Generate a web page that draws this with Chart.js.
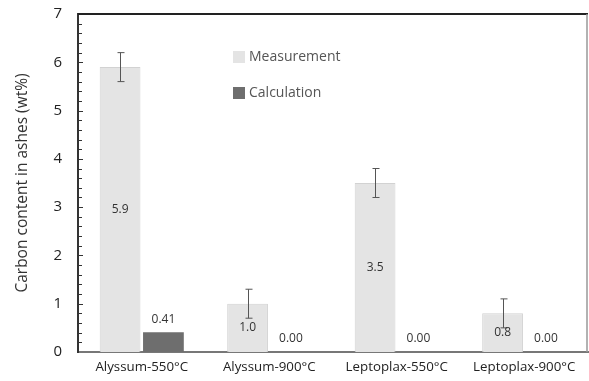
<!DOCTYPE html>
<html>
<head>
<meta charset="utf-8">
<script src="https://cdn.jsdelivr.net/npm/chart.js@4"></script>
<style>
  html, body { margin: 0; padding: 0; background: #fff; }
  #wrap { width: 589px; height: 381px; }
</style>
</head>
<body>
<div id="wrap"><canvas id="carbon-chart" width="589" height="381"></canvas></div>
<script>
const categories = ['Alyssum-550°C', 'Alyssum-900°C', 'Leptoplax-550°C', 'Leptoplax-900°C'];
const measurement = [5.9, 1.0, 3.5, 0.8];
const measurementErr = [0.3, 0.3, 0.3, 0.3];
const calculation = [0.41, 0, 0, 0];
const measurementLabels = ['5.9', '1.0', '3.5', '0.8'];
const calculationLabels = ['0.41', '0.00', '0.00', '0.00'];
const yTicks = [0, 1, 2, 3, 4, 5, 6, 7];

const FONT = "'Open Sans', 'DejaVu Sans', sans-serif";

// error bars, value labels, minor ticks, frame and legend
const extras = {
  id: 'extras',
  afterDraw(chart) {
    const ctx = chart.ctx;
    const x = chart.scales.x;
    const y = chart.scales.y;
    const L = x.left, R = x.right, T = y.top, B = y.bottom;
    const m0 = chart.getDatasetMeta(0);
    const m1 = chart.getDatasetMeta(1);
    ctx.save();

    // frame: top and right lines
    ctx.strokeStyle = '#222';
    ctx.lineWidth = 2;
    ctx.beginPath();
    ctx.moveTo(L, T);
    ctx.lineTo(R, T);
    ctx.stroke();
    ctx.strokeStyle = '#999';
    ctx.lineWidth = 1.5;
    ctx.beginPath();
    ctx.moveTo(R - 1, T);
    ctx.lineTo(R - 1, B);
    ctx.stroke();

    // minor/major ticks inside the left axis
    ctx.strokeStyle = '#333';
    ctx.lineWidth = 1;
    ctx.beginPath();
    for (let k = 1; k < 35; k++) {
      const py = Math.round(y.getPixelForValue(k * 0.2)) + 0.5;
      ctx.moveTo(L, py);
      ctx.lineTo(L + (k % 5 === 0 ? 5 : 4), py);
    }
    ctx.stroke();

    // error bars
    ctx.strokeStyle = '#555';
    m0.data.forEach((bar, i) => {
      const top = y.getPixelForValue(measurement[i] + measurementErr[i]);
      const bot = y.getPixelForValue(measurement[i] - measurementErr[i]);
      const bx = Math.round(bar.x) + 0.5;
      ctx.beginPath();
      ctx.moveTo(bx, top); ctx.lineTo(bx, bot);
      ctx.moveTo(bx - 3, top); ctx.lineTo(bx + 4, top);
      ctx.moveTo(bx - 3, bot); ctx.lineTo(bx + 4, bot);
      ctx.stroke();
    });

    // value labels
    ctx.font = '12px ' + FONT;
    ctx.fillStyle = '#333';
    ctx.textAlign = 'center';
    ctx.textBaseline = 'middle';
    m0.data.forEach((bar, i) => {
      ctx.fillText(measurementLabels[i], bar.x, (bar.y + bar.base) / 2);
    });
    m1.data.forEach((bar, i) => {
      ctx.fillText(calculationLabels[i], bar.x, bar.y - 13);
    });

    // legend
    const lx = 233, ly = [57, 93];
    const names = chart.data.datasets.map(d => d.label);
    const fills = chart.data.datasets.map(d => d.backgroundColor);
    ctx.font = '14px ' + FONT;
    ctx.textAlign = 'left';
    names.forEach((n, i) => {
      ctx.fillStyle = fills[i];
      ctx.fillRect(lx, ly[i] - 6, 12, 12);
      ctx.fillStyle = '#555';
      ctx.fillText(n, lx + 16, ly[i]);
    });
    ctx.restore();
  }
};

new Chart(document.getElementById('carbon-chart'), {
  type: 'bar',
  data: {
    labels: categories,
    datasets: [
      {
        label: 'Measurement',
        data: measurement,
        backgroundColor: '#e4e4e4',
        borderColor: '#d2d2d2',
        borderWidth: 1
      },
      {
        label: 'Calculation',
        data: calculation,
        backgroundColor: '#6e6e6e',
        borderColor: '#666',
        borderWidth: 0
      }
    ]
  },
  options: {
    responsive: false,
    animation: false,
    layout: { padding: { top: 14, right: 1, left: 0, bottom: 0 } },
    datasets: { bar: { categoryPercentage: 0.68, barPercentage: 0.94 } },
    plugins: {
      legend: { display: false },
      tooltip: { enabled: false }
    },
    scales: {
      x: {
        grid: { display: false, drawTicks: false },
        border: { color: '#777', width: 2 },
        ticks: { color: '#222', font: { family: FONT, size: 13.3 }, padding: 7 },
        afterFit(s) { s.height = 29; s.paddingLeft = 0; s.paddingRight = 0; }
      },
      y: {
        min: 0,
        max: 7,
        afterBuildTicks(s) { s.ticks = yTicks.map(v => ({ value: v })); },
        grid: { display: false, drawTicks: false },
        border: { color: '#333', width: 2 },
        ticks: { color: '#222', font: { family: FONT, size: 15 }, padding: 16 },
        title: {
          display: true,
          text: 'Carbon content in ashes (wt%)',
          color: '#333',
          font: { family: FONT, size: 15.5 },
          padding: { top: 13, bottom: 0 }
        },
        afterFit(s) { s.width = 78; s.paddingTop = 0; s.paddingBottom = 0; }
      }
    }
  },
  plugins: [extras]
});
</script>
</body>
</html>
